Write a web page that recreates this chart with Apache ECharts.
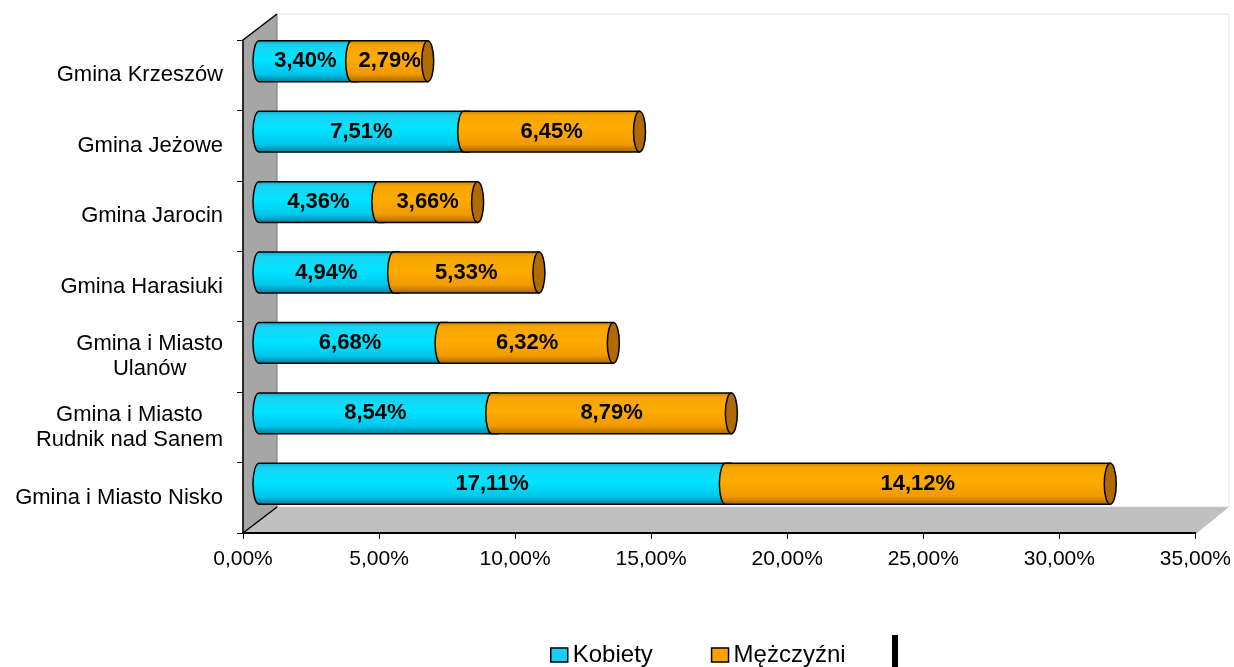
<!DOCTYPE html>
<html>
<head>
<meta charset="utf-8">
<script src="https://cdn.jsdelivr.net/npm/echarts@6/dist/echarts.min.js"></script>
<style>
  html, body { margin: 0; padding: 0; background: #fff; }
  #chart { width: 1234px; height: 667px; }
</style>
</head>
<body>
<div id="chart"></div>
<script>
// categories listed bottom -> top (category axis grows upwards)
const categories = [
  'Gmina i Miasto Nisko',
  'Gmina i Miasto\nRudnik nad Sanem',
  'Gmina i Miasto\nUlanów',
  'Gmina Harasiuki',
  'Gmina Jarocin',
  'Gmina Jeżowe',
  'Gmina Krzeszów'
];
const kobiety = [17.11, 8.54, 6.68, 4.94, 4.36, 7.51, 3.40];
const mezczyzni = [14.12, 8.79, 6.32, 5.33, 3.66, 6.45, 2.79];
const xMin = 0, xMax = 35, xStep = 5;

const FONT = '"Liberation Sans", Arial, sans-serif';

// front grid (axes) and the bar grid pushed half the depth back
const front = { left: 243, right: 37, top: 40, bottom: 134 };
const bars = { left: 259, right: 21, top: 26, bottom: 148 };
const depth = { dx: 34, dy: -26 };

const fmt = v => v.toFixed(2).replace('.', ',') + '%';

const blueFill = {
  type: 'linear', x: 0, y: 0, x2: 0, y2: 1,
  colorStops: [
    { offset: 0, color: '#0aa6c6' },
    { offset: 0.12, color: '#1ad3f3' },
    { offset: 0.45, color: '#00e4ff' },
    { offset: 0.8, color: '#00c6ea' },
    { offset: 1, color: '#08789a' }
  ]
};
const orangeFill = {
  type: 'linear', x: 0, y: 0, x2: 0, y2: 1,
  colorStops: [
    { offset: 0, color: '#c98200' },
    { offset: 0.12, color: '#f7a600' },
    { offset: 0.45, color: '#ffab00' },
    { offset: 0.8, color: '#f09a00' },
    { offset: 1, color: '#a46200' }
  ]
};

function makeRender(fill, isLast) {
  return function (params, api) {
    const s = api.value(0), e = api.value(1), cat = api.value(2);
    const p0 = api.coord([s, cat]);
    const p1 = api.coord([e, cat]);
    const h = api.size([0, 1])[1] * 0.58;
    const ry = h / 2, rx = 6;
    const top = p0[1] - ry, bot = p0[1] + ry;
    // non-last pieces run a bit further so their end hides under the next one
    const xr = isLast ? p1[0] : p1[0] + rx;
    const body = 'M' + p0[0] + ',' + top + ' L' + xr + ',' + top +
      ' L' + xr + ',' + bot + ' L' + p0[0] + ',' + bot +
      ' A' + rx + ',' + ry + ' 0 0 1 ' + p0[0] + ',' + top + ' Z';
    const children = [{
      type: 'path',
      shape: { pathData: body },
      style: { fill: fill, stroke: '#000', lineWidth: 1.5 }
    }];
    if (isLast) {
      const cx = p1[0];
      const cap = 'M' + (cx - rx) + ',' + p0[1] +
        ' A' + rx + ',' + ry + ' 0 1 1 ' + (cx + rx) + ',' + p0[1] +
        ' A' + rx + ',' + ry + ' 0 1 1 ' + (cx - rx) + ',' + p0[1] + ' Z';
      children.push({
        type: 'path',
        shape: { pathData: cap },
        style: { fill: '#b06a00', stroke: '#000', lineWidth: 1.5 }
      });
    }
    children.push({
      type: 'text',
      style: {
        text: fmt(api.value(3)),
        x: (p0[0] + p1[0]) / 2,
        y: p0[1],
        align: 'center',
        verticalAlign: 'middle',
        font: 'bold 22px ' + FONT,
        fill: '#000'
      }
    });
    return { type: 'group', children: children };
  };
}

// 3D walls around the plot (decoration)
const W = 1234, H = 667;
const fx0 = front.left, fx1 = W - front.right, fy0 = front.top, fy1 = H - front.bottom;
const bx0 = fx0 + depth.dx, by0 = fy0 + depth.dy, bx1 = fx1 + depth.dx - 2, by1 = fy1 + depth.dy;

let myChart = echarts.init(document.getElementById('chart'));
let option = {
  animation: false,
  backgroundColor: '#fff',
  graphic: [
    {
      type: 'rect', z: -10,
      shape: { x: bx0, y: by0, width: bx1 - bx0, height: by1 - by0 },
      style: { fill: '#fff', stroke: '#e4e4e4', lineWidth: 1 }
    },
    {
      type: 'polygon', z: -9,
      shape: { points: [[fx0, fy1], [bx0, by1], [bx1, by1], [fx1, fy1]] },
      style: { fill: '#c0c0c0' }
    },
    {
      type: 'polygon', z: -8,
      shape: { points: [[fx0, fy0], [bx0, by0], [bx0, by1], [fx0, fy1]] },
      style: { fill: '#a6a6a6', stroke: '#808080', lineWidth: 1 }
    },
    {
      type: 'polyline', z: -7,
      shape: { points: [[fx0, fy0], [bx0, by0]] },
      style: { stroke: '#000', lineWidth: 1.5 }
    },
    {
      type: 'polyline', z: -7,
      shape: { points: [[fx0, fy1], [bx0, by1]] },
      style: { stroke: '#000', lineWidth: 1.5 }
    },
    {
      type: 'rect',
      shape: { x: 892, y: 635, width: 6, height: 32 },
      style: { fill: '#000' }
    }
  ],
  legend: {
    left: 545,
    top: 638,
    itemWidth: 17,
    itemHeight: 14,
    itemGap: 58,
    icon: 'rect',
    itemStyle: { borderColor: '#000', borderWidth: 1.5 },
    textStyle: { fontFamily: FONT, fontSize: 24, color: '#000' },
    data: [
      { name: 'Kobiety', itemStyle: { color: '#19cdf5' } },
      { name: 'Mężczyźni', itemStyle: { color: '#ff9f00' } }
    ]
  },
  grid: [
    { left: front.left, right: front.right, top: front.top, bottom: front.bottom },
    { left: bars.left, right: bars.right, top: bars.top, bottom: bars.bottom }
  ],
  xAxis: [
    {
      gridIndex: 0,
      type: 'value',
      min: xMin, max: xMax, interval: xStep,
      axisLine: { show: true, lineStyle: { color: '#000', width: 2 } },
      axisTick: { show: true, length: 6, lineStyle: { color: '#000', width: 1 } },
      splitLine: { show: false },
      axisLabel: {
        formatter: fmt,
        margin: 16,
        fontFamily: FONT,
        fontSize: 21,
        color: '#000'
      }
    },
    { gridIndex: 1, type: 'value', min: xMin, max: xMax, show: false, splitLine: { show: false } }
  ],
  yAxis: [
    {
      gridIndex: 0,
      type: 'category',
      data: categories,
      axisLine: { show: true, lineStyle: { color: '#000', width: 1.5 } },
      axisTick: { show: true, length: 6, lineStyle: { color: '#000' } },
      axisLabel: {
        margin: 20,
        color: '#000',
        formatter: v => v.split('\n').map(s => '{c|' + s + '}').join('\n'),
        rich: {
          c: { align: 'center', fontFamily: FONT, fontSize: 22, lineHeight: 25, color: '#000' }
        }
      }
    },
    { gridIndex: 1, type: 'category', data: categories, show: false }
  ],
  series: [
    {
      name: 'Kobiety',
      type: 'custom',
      xAxisIndex: 1,
      yAxisIndex: 1,
      itemStyle: { color: '#19cdf5' },
      encode: { x: [0, 1], y: 2 },
      renderItem: makeRender(blueFill, false),
      data: kobiety.map((v, i) => [0, v, i, v])
    },
    {
      name: 'Mężczyźni',
      type: 'custom',
      xAxisIndex: 1,
      yAxisIndex: 1,
      itemStyle: { color: '#ff9f00' },
      encode: { x: [0, 1], y: 2 },
      renderItem: makeRender(orangeFill, true),
      data: mezczyzni.map((v, i) => [kobiety[i], kobiety[i] + v, i, v])
    }
  ]
};
myChart.setOption(option);
</script>
</body>
</html>
